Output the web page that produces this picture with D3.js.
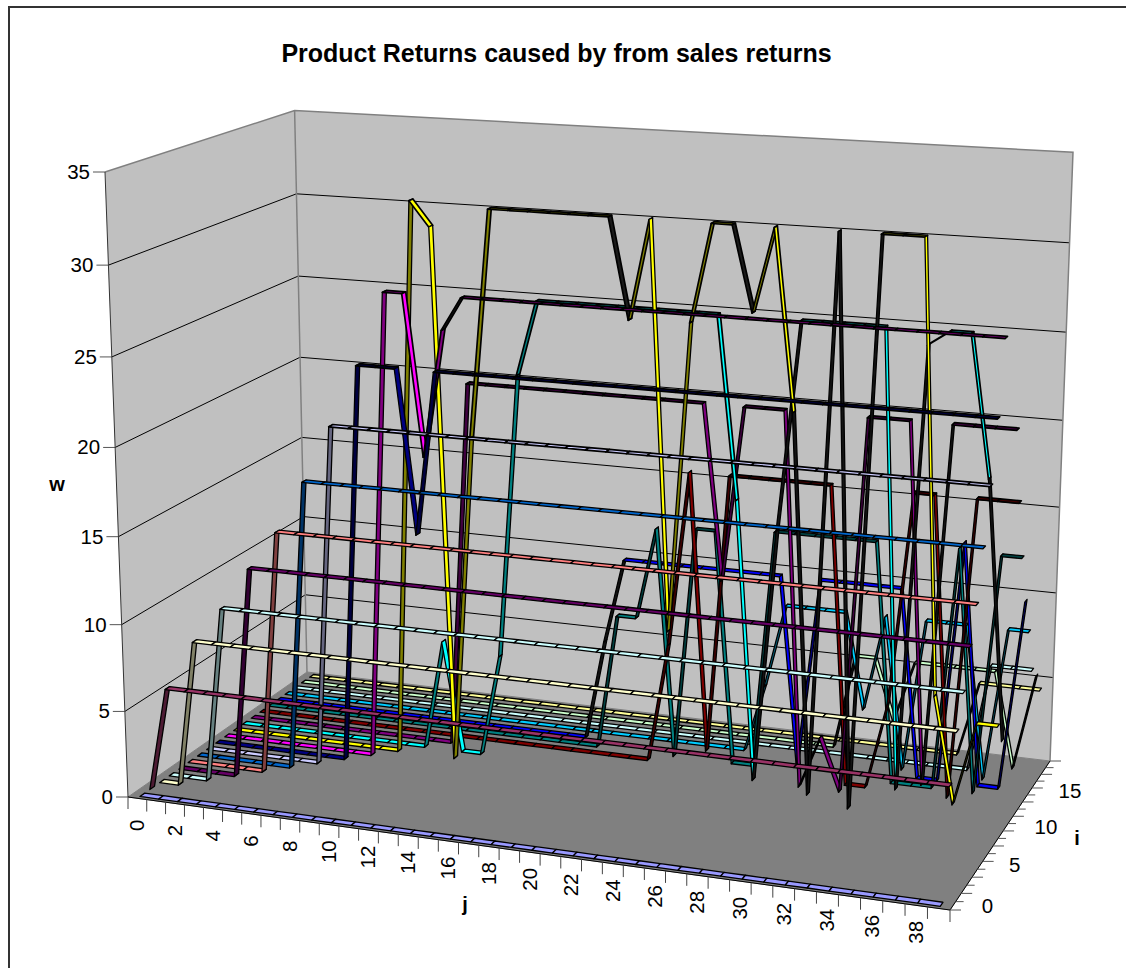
<!DOCTYPE html>
<html><head><meta charset="utf-8">
<script src="https://cdn.jsdelivr.net/npm/d3@7/dist/d3.min.js"></script>
<style>html,body{margin:0;padding:0;background:#fff}svg{display:block}text{font-family:"Liberation Sans",Arial,sans-serif;fill:#000}</style>
</head><body><svg id="c" width="1126" height="968"></svg>
<script>
const title="Product Returns caused by from sales returns";
const wTicks=[0,5,10,15,20,25,30,35];
const jTicks=[0,2,4,6,8,10,12,14,16,18,20,22,24,26,28,30,32,34,36,38];
const iTicks=[0,5,10,15];
const colors=["#9999FF","#993366","#FFFFCC","#CCFFFF","#660066","#FF8080","#0066CC","#CCCCFF","#000080","#FF00FF","#FFFF00","#00FFFF","#800080","#800000","#008080","#0000FF","#00CCFF","#CCFFFF","#CCFFCC","#FFFF99"];
const s00=[0,0,0,0,0,0,0,0,0,0,0,0,0,0,0,0,0,0,0,0,0,0,0,0,0,0,0,0,0,0,0,0,0,0,0,0,0,0,0,0];
const s01=[0,6,6,6,6,6,6,6,6,6,6,6,6,6,6,6,6,6,6,6,6,6,6,6,6,6,6,6,6,6,6,6,6,6,6,6,6,6,6,6];
const s02=[0,0,8.5,8.5,8.5,8.5,8.5,8.5,8.5,8.5,8.5,8.5,8.5,8.5,8.5,8.5,8.5,8.5,8.5,8.5,8.5,8.5,8.5,8.5,8.5,8.5,8.5,8.5,8.5,8.5,8.5,8.5,8.5,8.5,8.5,8.5,8.5,8.5,8.5,8.5];
const s03=[0,0,0,10.2,10.2,10.2,10.2,10.2,10.2,10.2,10.2,10.2,10.2,10.2,10.2,10.2,10.2,10.2,10.2,10.2,10.2,10.2,10.2,10.2,10.2,10.2,10.2,10.2,10.2,10.2,10.2,10.2,10.2,10.2,10.2,10.2,10.2,10.2,10.2,10.2];
const s04=[0,0,0,0,12.3,12.3,12.3,12.3,12.3,12.3,12.3,12.3,12.3,12.3,12.3,12.3,12.3,12.3,12.3,12.3,12.3,12.3,12.3,12.3,12.3,12.3,12.3,12.3,12.3,12.3,12.3,12.3,12.3,12.3,12.3,12.3,12.3,12.3,12.3,12.3];
const s05=[0,0,0,0,0,14.2,14.2,14.2,14.2,14.2,14.2,14.2,14.2,14.2,14.2,14.2,14.2,14.2,14.2,14.2,14.2,14.2,14.2,14.2,14.2,14.2,14.2,14.2,14.2,14.2,14.2,14.2,14.2,14.2,14.2,14.2,14.2,14.2,14.2,14.2];
const s06=[0,0,0,0,0,0,16.9,16.9,16.9,16.9,16.9,16.9,16.9,16.9,16.9,16.9,16.9,16.9,16.9,16.9,16.9,16.9,16.9,16.9,16.9,16.9,16.9,16.9,16.9,16.9,16.9,16.9,16.9,16.9,16.9,16.9,16.9,16.9,16.9,16.9];
const s07=[0,0,0,0,0,0,0,19.9,19.9,19.9,19.9,19.9,19.9,19.9,19.9,19.9,19.9,19.9,19.9,19.9,19.9,19.9,19.9,19.9,19.9,19.9,19.9,19.9,19.9,19.9,19.9,19.9,19.9,19.9,19.9,19.9,19.9,19.9,19.9,19.9];
const s08=[0,0,0,0,0,0,0,0,23.2,23.2,23.2,13.8,23.2,23.2,23.2,23.2,23.2,23.2,23.2,23.2,23.2,23.2,23.2,23.2,23.2,23.2,23.2,23.2,23.2,23.2,23.2,23.2,23.2,23.2,23.2,23.2,23.2,23.2,23.2,23.2];
const s09=[0,0,0,0,0,0,0,0,0,27.2,27.2,18,25.3,27.2,27.2,27.2,27.2,27.2,27.2,27.2,27.2,27.2,27.2,27.2,27.2,27.2,27.2,27.2,27.2,27.2,27.2,27.2,27.2,27.2,27.2,27.2,27.2,27.2,27.2,27.2];
const s10=[0,0,0,0,0,0,0,0,0,0,32.2,30.8,0,19,32,32,32,32,32,32,32,26.4,32,9,26.5,32,32,27.3,32,22,0.5,32,0,32,32,32,7,1,5.7,5.7];
const s11=[0,0,0,0,0,0,0,0,0,0,0,6.5,0,0,6,22.5,26.8,26.8,26.8,26.8,26.8,26.8,26.8,26.8,26.8,26.8,16.5,0.5,15,26.8,26.8,26.8,26.8,26.8,1,26,26.8,26.8,19,4.5];
const s12=[0,0,0,0,0,0,0,0,0,0,0,0,21.5,21.5,21.5,21.5,21.5,21.5,21.5,21.5,21.5,21.5,21.5,21.5,21.5,11.5,21.5,21.5,21.5,0,3,0,21.5,21.5,21.5,1,21.5,21.5,21.5,21.5];
const s13=[0,0,0,0,0,0,0,0,0,0,0,0,0,0,0,0,0,0,0,0,0,0,7,17.2,1,17.2,17.2,17.2,17.2,17.2,17.2,0,0,5,17.2,17.2,0,17.2,17.2,17.2];
const s14=[0,0,0,0,0,0,0,0,0,0,0,0,0,0,0,0,0,0,0,8,8,13.4,0,13.6,13.6,0,0,13.9,13.9,13.9,13.9,13.9,13.9,0,0,0,14,0,13.8,13.8];
const s15=[0,0,0,0,0,0,0,0,0,0,0,0,0,0,0,0,0,0,6,11,11,11,11,11,11,11,11,11,0,11,11,11,11,11,0,0,14,0,0,11];
const s16=[0,0,0,0,0,0,0,0,0,0,0,0,0,0,0,0,0,0,0,0,0,0,0,0,0,0,4,8.9,8.9,8.9,8.9,3.3,8.9,0,8.9,8.9,8.9,0,8.9,8.9];
const s17=[0,0,0,0,0,0,0,0,0,0,0,0,0,0,0,0,0,0,0,0,0,0,0,0,0,0,0,0,0,0,0,0,0,0,0,0,0,6.3,6.3,6.3];
const s18=[0,0,0,0,0,0,0,0,0,0,0,0,0,0,0,0,0,0,0,0,0,0,0,0,0,0,0,0,0,0,5.6,5.6,2,5.6,5.6,5.6,5.6,5.6,0,5.6];
const s19=[0,0,0,0,0,0,0,0,0,0,0,0,0,0,0,0,0,0,0,0,0,0,0,0,0,0,0,0,0,0,0,0,0,0,0,0,4.4,4.4,4.4,4.4];
const series=[s00,s01,s02,s03,s04,s05,s06,s07,s08,s09,s10,s11,s12,s13,s14,s15,s16,s17,s18,s19];
// "series:segment" pairs whose ribbon is seen edge on and reads as black
const edgeOn=["9:12","10:29","10:30","10:31","10:32","11:27","11:28","11:34","11:38","15:17","15:18","18:29","18:38","12:35"];

// frame of the 3D box (layout)
const A=[128,797],B=[950,910],C=[1050,761],D=[307,672],E=[105,172],G=[1073,153];
const ju=d3.scaleLinear().domain([0,40]).range([0,1]);
const iv=d3.scaleLinear().domain([0,20]).range([0,1]);
const wt=d3.scaleLinear().domain([0,35]).range([0,1]);
const dx1=B[0]-C[0],dx2=D[0]-C[0],sx=A[0]-B[0]+C[0]-D[0];
const dy1=B[1]-C[1],dy2=D[1]-C[1],sy=A[1]-B[1]+C[1]-D[1];
const den=dx1*dy2-dx2*dy1;
const g=(sx*dy2-dx2*sy)/den,h=(dx1*sy-sx*dy1)/den;
const a=B[0]-A[0]+g*B[0],b=D[0]-A[0]+h*D[0],c0=A[0];
const d=B[1]-A[1]+g*B[1],e=D[1]-A[1]+h*D[1],f=A[1];
const Xc=a+b+c0,Wc=g+h+1;
const r=(G[0]*Wc-Xc+c0-E[0])/(E[0]-G[0]);
const m=E[0]*(1+r)-c0,n=E[1]*(1+r)-f;
function P(j,i,w){const u=ju(j),v=iv(i),t=wt(w);
  const W=g*u+h*v+r*t+1;
  return [(a*u+b*v+m*t+c0)/W,(d*u+e*v+n*t+f)/W];}

const svg=d3.select("#c");
const poly=d3.line().curve(d3.curveLinearClosed);
svg.append("line").attr("x1",8).attr("x2",1126).attr("y1",7).attr("y2",7).attr("stroke","#333").attr("stroke-width",2);
svg.append("line").attr("x1",9).attr("x2",9).attr("y1",6).attr("y2",968).attr("stroke","#333").attr("stroke-width",2);
svg.append("text").attr("x",556.5).attr("y",62).attr("text-anchor","middle").attr("font-weight","bold").attr("font-size",25).text(title);

// walls & floor
const J=40,I=20,T=35;
svg.append("path").attr("d",poly([P(0,0,0),P(0,I,0),P(0,I,T),P(0,0,T)])).attr("fill","#C0C0C0");
svg.append("path").attr("d",poly([P(0,I,0),P(J,I,0),P(J,I,T),P(0,I,T)])).attr("fill","#C0C0C0");
svg.append("path").attr("d",poly([P(0,0,0),P(J,0,0),P(J,I,0),P(0,I,0)])).attr("fill","#808080").attr("stroke","#808080");
// gridlines
wTicks.filter(v=>v>0&&v<T).forEach(v=>{
  svg.append("path").attr("d",d3.line()([P(0,0,v),P(0,I,v),P(J,I,v)])).attr("fill","none").attr("stroke","#000").attr("stroke-width",1);
});
svg.append("path").attr("d",d3.line()([P(0,0,T),P(0,I,T),P(J,I,T),P(J,I,0)])).attr("fill","none").attr("stroke","#808080").attr("stroke-width",1.5);
svg.append("line").attr("x1",P(0,I,0)[0]).attr("y1",P(0,I,0)[1]).attr("x2",P(0,I,T)[0]).attr("y2",P(0,I,T)[1]).attr("stroke","#808080").attr("stroke-width",1.5);

// axes
wTicks.forEach(v=>{const p=P(0,0,v);
  svg.append("line").attr("x1",p[0]-12).attr("x2",p[0]).attr("y1",p[1]).attr("y2",p[1]).attr("stroke","#555");
  svg.append("text").attr("x",p[0]-15).attr("y",p[1]+7).attr("text-anchor","end").attr("font-size",20.5).text(v);
});
svg.append("line").attr("x1",P(0,0,0)[0]).attr("y1",P(0,0,0)[1]).attr("x2",P(0,0,T)[0]).attr("y2",P(0,0,T)[1]).attr("stroke","#333");
svg.append("path").attr("d",d3.line()([P(0,0,0),P(J,0,0),P(J,I,0)])).attr("fill","none").attr("stroke","#000");
d3.range(0,J+1).forEach(k=>{const p=P(k,0,0);
  svg.append("line").attr("x1",p[0]).attr("x2",p[0]).attr("y1",p[1]).attr("y2",p[1]+12).attr("stroke","#444");
});
jTicks.forEach(v=>{const p=P(v+.5,0,0);
  svg.append("text").attr("transform",`translate(${p[0]+7},${p[1]+27}) rotate(-90)`).attr("text-anchor","middle").attr("font-size",20.5).text(v);
});
d3.range(0,I+1).forEach(k=>{const p=P(J,k,0);
  svg.append("line").attr("x1",p[0]).attr("x2",p[0]+(k%2?8:11)).attr("y1",p[1]).attr("y2",p[1]).attr("stroke","#555");
});
iTicks.forEach(v=>{const p=P(J,v+.5,0);
  svg.append("text").attr("x",p[0]+29).attr("y",p[1]+7).attr("text-anchor","start").attr("font-size",20.5).text(v);
});
svg.append("text").attr("x",57).attr("y",491).attr("text-anchor","middle").attr("font-weight","bold").attr("font-size",20).text("w");
svg.append("text").attr("x",465).attr("y",911).attr("text-anchor","middle").attr("font-weight","bold").attr("font-size",20).text("j");
svg.append("text").attr("x",1077).attr("y",845).attr("text-anchor","middle").attr("font-weight","bold").attr("font-size",20).text("i");

// ribbons, far series first
const gap=0.26;
const segs=[];
for(let i=I-1;i>=0;i--){
  const vals=series[i];
  for(let j=0;j<vals.length-1;j++){segs.push({i,j,w0:vals[j],w1:vals[j+1]});}
}
function half(col){const c=d3.rgb(col);return d3.rgb(c.r*.5,c.g*.5,c.b*.5).formatHex();}
function fillOf(q){
  const col=colors[q.i];
  if(edgeOn.includes(q.i+":"+q.j)) return "#141414";
  if(q.w1>q.w0) return half(col);
  if(q.w1===q.w0 && q.i>=8 && q.w0>=13) return half(col);
  if(q.w1<q.w0 && q.w1>=24 && q.w0-q.w1>2) return "#1a1a1a";
  return d3.rgb(col).formatHex();
}
svg.append("g").selectAll("path").data(segs).join("path")
  .attr("d",q=>{const j0=q.j+.5,j1=q.j+1.5,i0=q.i+gap,i1=q.i+1-gap;
    return poly([P(j0,i0,q.w0),P(j1,i0,q.w1),P(j1,i1,q.w1),P(j0,i1,q.w0)]);})
  .attr("fill",fillOf)
  .attr("stroke","#000").attr("stroke-width",q=>(q.i>=7&&q.w0>=16&&q.w1>=16)?1.7:1.3).attr("stroke-linejoin","round");
</script></body></html>
